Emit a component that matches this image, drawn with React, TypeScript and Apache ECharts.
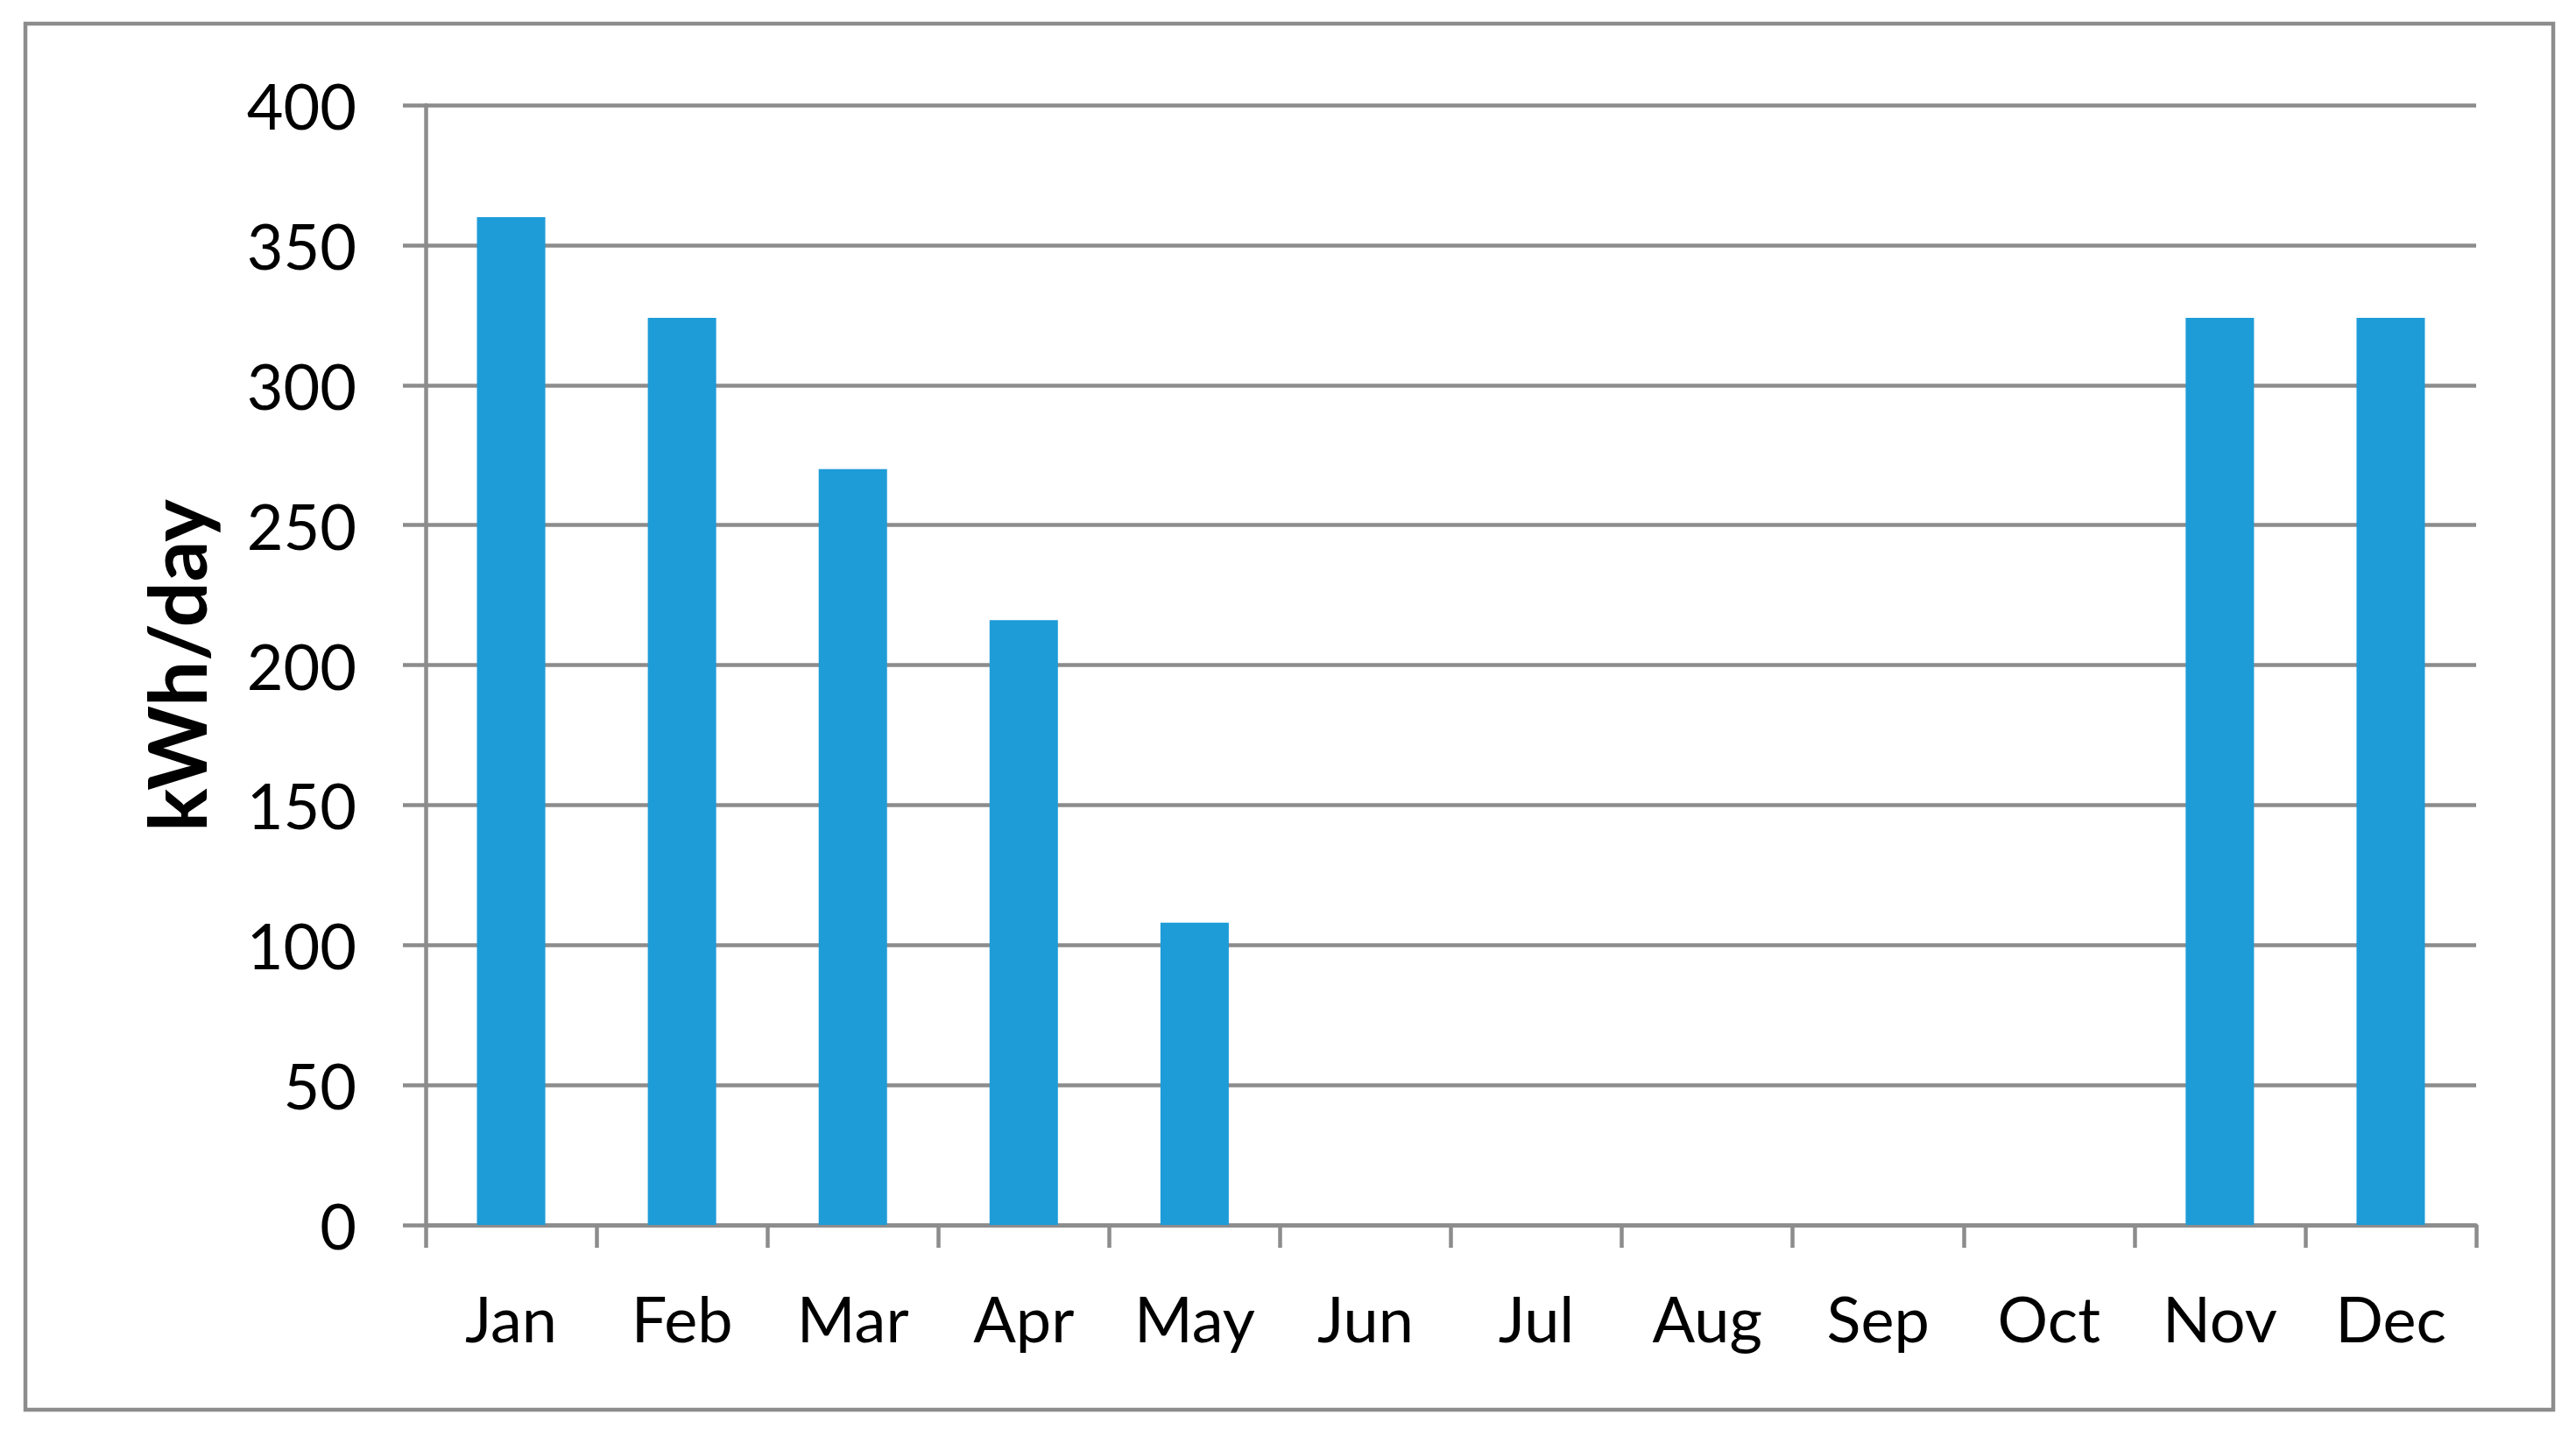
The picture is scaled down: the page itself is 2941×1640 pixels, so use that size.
import React, { useEffect, useRef } from "react";
import * as echarts from "echarts";

const months = ["Jan", "Feb", "Mar", "Apr", "May", "Jun", "Jul", "Aug", "Sep", "Oct", "Nov", "Dec"];
const energy = [360, 324, 270, 216, 108, 0, 0, 0, 0, 0, 324, 324];
const yTicks = { min: 0, max: 400, interval: 50 };
const yTitle = "kWh/day";

const GRAY = "#8c8c8c";
const BAR = "#1e9cd8";
const FONT = "Lato, 'Open Sans', sans-serif";

export default function App() {
  const ref = useRef<HTMLDivElement>(null);

  useEffect(() => {
    document.body.style.margin = "0";
    const chart = echarts.init(ref.current!, null, { renderer: "svg" });
    chart.setOption({
      animation: false,
      backgroundColor: "#ffffff",
      grid: { left: 486, right: 114, top: 120, bottom: 241, containLabel: false },
      xAxis: {
        type: "category",
        data: months,
        boundaryGap: true,
        axisLine: { show: true, lineStyle: { color: GRAY, width: 4.5 } },
        axisTick: { show: true, length: 26, alignWithLabel: false, lineStyle: { color: GRAY, width: 4.5 } },
        axisLabel: { color: "#000", fontFamily: FONT, fontSize: 72, margin: 70, interval: 0 },
        splitLine: { show: false },
      },
      yAxis: {
        type: "value",
        min: yTicks.min,
        max: yTicks.max,
        interval: yTicks.interval,
        axisLine: { show: true, lineStyle: { color: GRAY, width: 4.5 } },
        axisTick: { show: true, length: 26, lineStyle: { color: GRAY, width: 4.5 } },
        axisLabel: { color: "#000", fontFamily: FONT, fontSize: 72, margin: 79 },
        splitLine: { show: true, lineStyle: { color: GRAY, width: 4.5 } },
      },
      series: [
        {
          type: "bar",
          data: energy,
          barWidth: "40%",
          itemStyle: { color: BAR },
        },
      ],
      graphic: [
        {
          type: "rect",
          shape: { x: 29, y: 27, width: 2886, height: 1583 },
          style: { fill: "none", stroke: GRAY, lineWidth: 4.5 },
          silent: true,
        },
        {
          type: "text",
          x: 200,
          y: 760,
          rotation: Math.PI / 2,
          style: {
            text: yTitle,
            fontFamily: FONT,
            fontWeight: "bold",
            fontSize: 92,
            fill: "#000",
            align: "center",
            verticalAlign: "middle",
          },
        },
      ],
    });
    return () => chart.dispose();
  }, []);

  return (
    <div
      ref={ref}
      style={{ position: "fixed", left: 0, top: 0, width: 2941, height: 1640 }}
    />
  );
}
